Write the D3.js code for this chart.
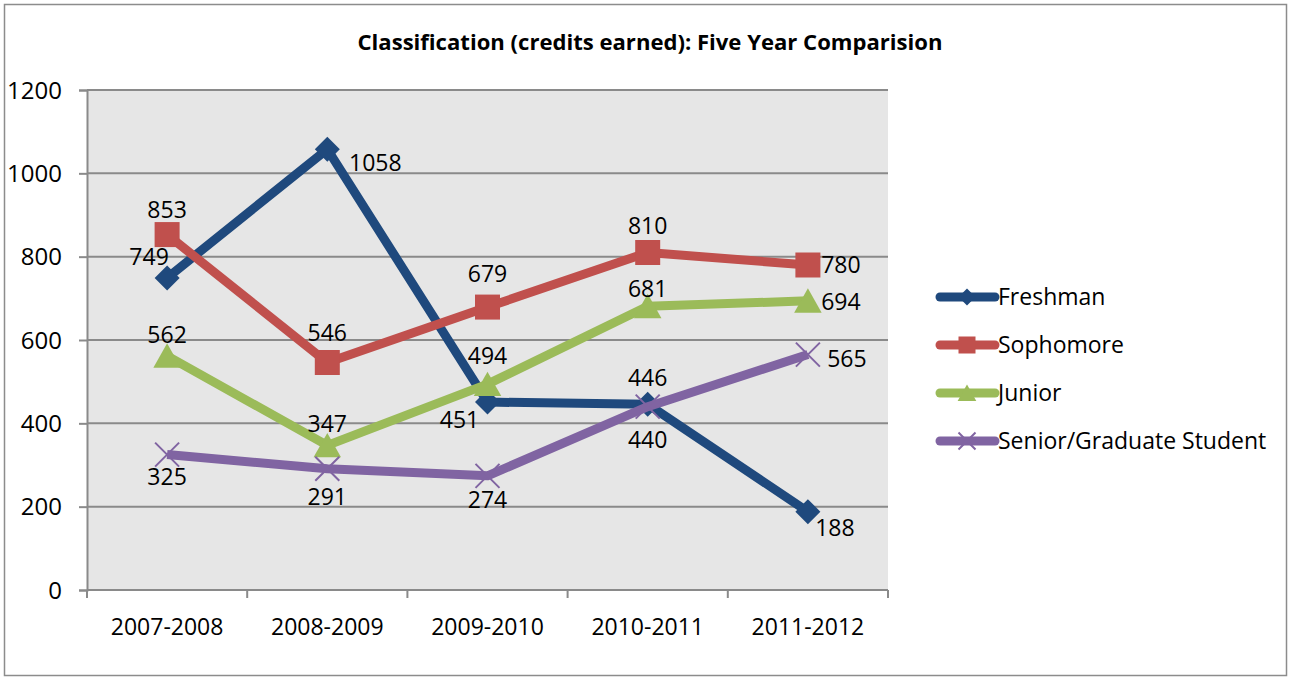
<!DOCTYPE html>
<html>
<head>
<meta charset="utf-8">
<script src="https://cdn.jsdelivr.net/npm/d3@7"></script>
<style>
  body { margin: 0; background: #fff; }
  text { font-family: "Open Sans", sans-serif; fill: #000; }
</style>
</head>
<body>
<div id="viz"></div>
<script>
// chart data
const years = ["2007-2008", "2008-2009", "2009-2010", "2010-2011", "2011-2012"]
const freshman = [749, 1058, 451, 446, 188]
const sophomore = [853, 546, 679, 810, 780]
const junior = [562, 347, 494, 681, 694]
const senior = [325, 291, 274, 440, 565]
const seriesNames = ["Freshman", "Sophomore", "Junior", "Senior/Graduate Student"]
const yTicks = [0, 200, 400, 600, 800, 1000, 1200]

// where each data label sits relative to its point (style only)
const labelNudge = [
  [[-18, -21], [48, 14], [-28, 18], [0, -26], [27, 16]],
  [[0, -25], [0, -30], [0, -33], [0, -27], [33, 0]],
  [[0, -21], [0, -22], [0, -28], [0, -18], [33, 1]],
  [[0, 22], [0, 28], [0, 24], [0, 33], [39, 4]]
]

const colors = ["#1F497D", "#C0504D", "#9BBB59", "#8064A2"]
const shapes = ["diamond", "square", "triangle", "cross"]
const fontSize = 23

const width = 1297
const height = 677
const plot = {left: 87, right: 888, top: 90, bottom: 590}

const svg = d3.select("#viz")
  .append("svg")
  .attr("width", width)
  .attr("height", height)

// outer frame
svg.append("rect")
  .attr("x", 4.5).attr("y", 4.5)
  .attr("width", 1282).attr("height", 671)
  .attr("fill", "#fff")
  .attr("stroke", "#8c8c8c")
  .attr("stroke-width", 1.5)

// title
svg.append("text")
  .attr("x", 650)
  .attr("y", 50)
  .attr("text-anchor", "middle")
  .attr("font-size", 20.5)
  .attr("font-weight", "bold")
  .attr("textLength", 585)
  .attr("lengthAdjust", "spacingAndGlyphs")
  .text("Classification (credits earned): Five Year Comparision")

// scales
const x = d3.scaleBand()
  .domain(years)
  .range([plot.left, plot.right])
  .padding(0)
const cx = d => x(d) + x.bandwidth() / 2

const y = d3.scaleLinear()
  .domain([0, 1200])
  .range([plot.bottom, plot.top])

// plot background
svg.append("rect")
  .attr("x", plot.left).attr("y", plot.top)
  .attr("width", plot.right - plot.left)
  .attr("height", plot.bottom - plot.top)
  .attr("fill", "#e6e6e6")

// gridlines
svg.append("g")
  .selectAll("line")
  .data(yTicks.filter(t => t > 0))
  .enter()
  .append("line")
  .attr("x1", plot.left).attr("x2", plot.right)
  .attr("y1", d => y(d)).attr("y2", d => y(d))
  .attr("stroke", "#8a8a8a")
  .attr("stroke-width", 2)

// y axis
const yAxis = svg.append("g")
  .attr("transform", "translate(" + plot.left + ",0)")
  .call(d3.axisLeft(y).tickValues(yTicks).tickFormat(d3.format("d")).tickSize(8).tickPadding(17))
yAxis.select(".domain").attr("stroke", "#8a8a8a").attr("stroke-width", 2)
yAxis.selectAll(".tick line").attr("stroke", "#8a8a8a").attr("stroke-width", 2)
yAxis.selectAll("text")
  .attr("font-size", 24)
  .attr("font-family", "Open Sans")
  .attr("fill", "#000")
  .attr("dy", "0.34em")

// x axis: line, ticks at category boundaries, labels at centres
const xAxis = svg.append("g")
xAxis.append("line")
  .attr("x1", plot.left).attr("x2", plot.right)
  .attr("y1", plot.bottom).attr("y2", plot.bottom)
  .attr("stroke", "#8a8a8a").attr("stroke-width", 2)
xAxis.selectAll(".xtick")
  .data(years.map(d => x(d)).concat([plot.right]))
  .enter()
  .append("line")
  .attr("class", "xtick")
  .attr("x1", d => d).attr("x2", d => d)
  .attr("y1", plot.bottom).attr("y2", plot.bottom + 8)
  .attr("stroke", "#8a8a8a").attr("stroke-width", 2)
xAxis.selectAll(".xlabel")
  .data(years)
  .enter()
  .append("text")
  .attr("class", "xlabel")
  .attr("x", d => cx(d))
  .attr("y", 635)
  .attr("text-anchor", "middle")
  .attr("font-size", fontSize)
  .text(d => d)

// marker drawing
function drawMarker(g, shape, color, s) {
  if (shape === "diamond") {
    g.append("path")
      .attr("d", `M0,${-s}L${s},0L0,${s}L${-s},0Z`)
      .attr("fill", color)
  } else if (shape === "square") {
    g.append("rect")
      .attr("x", -s).attr("y", -s)
      .attr("width", 2 * s).attr("height", 2 * s)
      .attr("fill", color)
  } else if (shape === "triangle") {
    g.append("path")
      .attr("d", `M0,${-s}L${s * 1.1},${s * 0.95}L${-s * 1.1},${s * 0.95}Z`)
      .attr("fill", color)
  } else {
    g.append("path")
      .attr("d", `M${-s},${-s}L${s},${s}M${s},${-s}L${-s},${s}`)
      .attr("stroke", color)
      .attr("stroke-width", 2)
      .attr("fill", "none")
  }
}

const allSeries = [freshman, sophomore, junior, senior]
const line = d3.line()
  .x((d, i) => cx(years[i]))
  .y(d => y(d))

// series: line then markers, in order so later ones sit on top
allSeries.forEach(function(values, k) {
  const g = svg.append("g")
  g.append("path")
    .datum(values)
    .attr("d", line)
    .attr("fill", "none")
    .attr("stroke", colors[k])
    .attr("stroke-width", 9)
    .attr("stroke-linejoin", "round")
  values.forEach(function(v, i) {
    const m = g.append("g")
      .attr("transform", "translate(" + cx(years[i]) + "," + y(v) + ")")
    drawMarker(m, shapes[k], colors[k], k === 3 ? 12 : 12.5)
  })
})

// data labels
allSeries.forEach(function(values, k) {
  svg.append("g")
    .selectAll("text")
    .data(values)
    .enter()
    .append("text")
    .attr("x", (d, i) => cx(years[i]) + labelNudge[k][i][0])
    .attr("y", (d, i) => y(d) + labelNudge[k][i][1])
    .attr("dy", "0.36em")
    .attr("text-anchor", "middle")
    .attr("font-size", fontSize)
    .text(d => d)
})

// legend
const legend = svg.append("g")
seriesNames.forEach(function(name, k) {
  const ly = 297 + k * 48
  const row = legend.append("g")
  row.append("line")
    .attr("x1", 940).attr("x2", 995)
    .attr("y1", ly).attr("y2", ly)
    .attr("stroke", colors[k])
    .attr("stroke-width", 9)
    .attr("stroke-linecap", "round")
  const m = row.append("g").attr("transform", "translate(967," + ly + ")")
  drawMarker(m, shapes[k], colors[k], 8.5)
  row.append("text")
    .attr("x", 998)
    .attr("y", ly)
    .attr("dy", "0.36em")
    .attr("font-size", fontSize)
    .text(name)
})
</script>
</body>
</html>
